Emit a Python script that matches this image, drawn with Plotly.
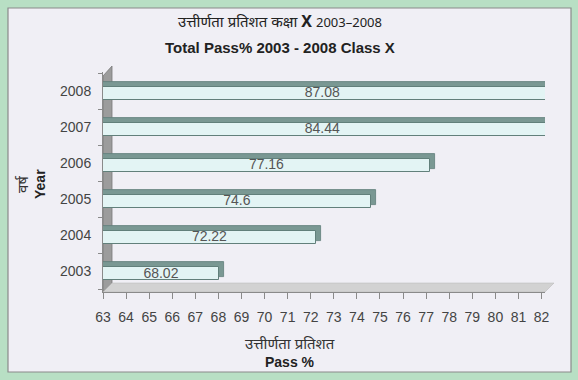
import plotly.graph_objects as go

years = ["2003", "2004", "2005", "2006", "2007", "2008"]
pass_pct = [68.02, 72.22, 74.6, 77.16, 84.44, 87.08]
x_ticks = list(range(63, 83))

X_MIN, X_MAX = 63, 82
DEPTH = 0.22

W, H = 578, 380
L, R, T, B = 103, 33, 72, 88
PW, PH = W - L - R, H - T - B

def px(xpix):
    return (xpix - L) / PW

def py(ypix):
    return (H - B - ypix) / PH

pos = list(range(len(years)))

fig = go.Figure()
# dark back (top face / right end) of 3D bars
fig.add_trace(go.Bar(
    y=pos, x=[v + DEPTH for v in pass_pct], orientation="h",
    width=0.4, offset=-0.15,
    marker=dict(color="#7a9893", line=dict(color="#5f7d78", width=0.8)),
    hoverinfo="skip", showlegend=False,
))
# light front face
fig.add_trace(go.Bar(
    y=pos, x=pass_pct, orientation="h",
    width=0.37, offset=-0.26,
    marker=dict(color="#e3f4f4", line=dict(color="#62807b", width=1)),
    hoverinfo="x", showlegend=False,
))
# value labels, centred in the visible part of each bar
fig.add_trace(go.Scatter(
    y=[p - 0.08 for p in pos],
    x=[(X_MIN + min(v, X_MAX)) / 2 for v in pass_pct],
    mode="text", text=[f"{v:g}" for v in pass_pct],
    textfont=dict(family="Liberation Sans, Arial", size=14, color="#555"),
    hoverinfo="skip", showlegend=False, cliponaxis=False,
))

shapes = [
    # outer panel
    dict(type="rect", xref="paper", yref="paper", x0=px(8), x1=px(571), y0=py(372), y1=py(8),
         fillcolor="#f0eff5", line=dict(color="#8a8a8a", width=1.2), layer="below"),
    # left wall
    dict(type="path", xref="paper", yref="paper",
         path=f"M {px(103)} {py(292)} L {px(103)} {py(76)} L {px(112)} {py(66)} L {px(112)} {py(283)} Z",
         fillcolor="#9c9c9c", line=dict(color="#7a7a7a", width=0.8), layer="below"),
    # floor
    dict(type="path", xref="paper", yref="paper",
         path=f"M {px(103)} {py(292)} L {px(545)} {py(292)} L {px(554)} {py(283)} L {px(112)} {py(283)} Z",
         fillcolor="#d2d2d2", line=dict(color="#b5b5b5", width=0.5), layer="below"),
]

def ann(x, y, text, size, family, color="#222", angle=0):
    return dict(xref="paper", yref="paper", x=px(x), y=py(y), xanchor="center", yanchor="middle",
                showarrow=False, text=text, textangle=angle,
                font=dict(family=family, size=size, color=color))

HI = "Noto Sans, Liberation Sans"
EN = "Liberation Sans, Arial"
annotations = [
    ann(280, 21, "उत्तीर्णता प्रतिशत कक्षा <b><span style='font-size:16px'>X</span></b> <span style='font-size:13px'>2003–2008</span>", 15, HI),
    ann(280, 47, "<b>Total Pass% 2003 - 2008 Class X</b>", 15, EN),
    ann(290, 343, "उत्तीर्णता प्रतिशत", 15, HI, "#333"),
    ann(290, 362, "<b>Pass %</b>", 14, EN),
    ann(22, 184, "वर्ष", 15, HI, "#333", -90),
    ann(40, 184, "<b>Year</b>", 14, EN, "#222", -90),
]

fig.update_layout(
    width=W, height=H,
    margin=dict(l=L, r=R, t=T, b=B),
    paper_bgcolor="#b8dfc4",
    plot_bgcolor="rgba(0,0,0,0)",
    barmode="overlay",
    bargap=0,
    shapes=shapes,
    annotations=annotations,
    xaxis=dict(
        range=[X_MIN, X_MAX + 0.15], tickvals=x_ticks, ticktext=[str(t) for t in x_ticks],
        showgrid=False, zeroline=False, showline=True, linecolor="#8a8a8a",
        ticks="outside", ticklen=6, tickcolor="#8a8a8a", ticklabelstandoff=6,
        tickfont=dict(family=EN, size=14, color="#444"),
        fixedrange=True,
    ),
    yaxis=dict(
        range=[-0.58, 5.53], tickvals=pos, ticktext=years,
        showgrid=False, zeroline=False, showline=True, linecolor="#8a8a8a",
        ticks="", ticklabelstandoff=8,
        tickfont=dict(family=EN, size=14, color="#444"),
        minor=dict(tickvals=[p - 0.5 for p in pos] + [pos[-1] + 0.5], ticks="outside",
                   ticklen=4, tickcolor="#8a8a8a"),
        fixedrange=True,
    ),
)

fig.write_html("out.html")
